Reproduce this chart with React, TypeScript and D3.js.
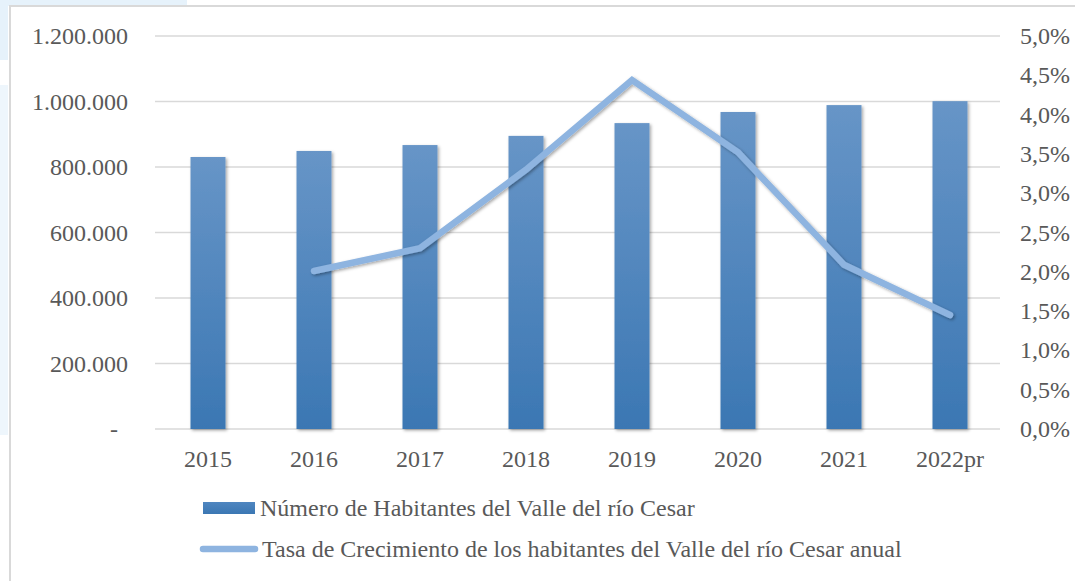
import { useEffect, useRef } from 'react'
import * as d3 from 'd3'

const years = ['2015', '2016', '2017', '2018', '2019', '2020', '2021', '2022pr']
const habitantes = [830500, 849000, 867000, 895000, 934000, 968000, 989000, 1001000]
const crecimiento = [null, 2.01, 2.3, 3.3, 4.44, 3.52, 2.09, 1.45]
const leftTicks = [0, 200000, 400000, 600000, 800000, 1000000, 1200000]
const rightTicks = [0, 0.5, 1, 1.5, 2, 2.5, 3, 3.5, 4, 4.5, 5]

const barLabel = 'Número de Habitantes del Valle del río Cesar'
const lineLabel = 'Tasa de Crecimiento de los habitantes del Valle del río Cesar anual'

export default function App() {
  const svgRef = useRef<SVGSVGElement>(null)

  useEffect(() => {
    if (!svgRef.current) return
    const width = 1075
    const height = 581
    const margin = { top: 36, right: 72, bottom: 152, left: 155 }
    const font = "'Liberation Serif', 'Times New Roman', serif"
    const fontSize = '24px'
    const textColor = '#595959'

    const svg = d3.select(svgRef.current)
    svg.selectAll('*').remove()
    svg.attr('width', width).attr('height', height)

    // 그라디언트, 그림자
    const defs = svg.append('defs')
    const grad = defs.append('linearGradient').attr('id', 'barGrad').attr('x1', 0).attr('y1', 0).attr('x2', 0).attr('y2', 1)
    grad.append('stop').attr('offset', '0%').attr('stop-color', '#6795c7')
    grad.append('stop').attr('offset', '100%').attr('stop-color', '#3b77b3')
    const legGrad = defs.append('linearGradient').attr('id', 'legGrad').attr('x1', 0).attr('y1', 0).attr('x2', 0).attr('y2', 1)
    legGrad.append('stop').attr('offset', '0%').attr('stop-color', '#4f86c0')
    legGrad.append('stop').attr('offset', '100%').attr('stop-color', '#3b77b3')
    const shadow = defs.append('filter').attr('id', 'shadow').attr('x', '-20%').attr('y', '-20%').attr('width', '140%').attr('height', '140%')
    shadow.append('feDropShadow').attr('dx', 1.5).attr('dy', 1.5).attr('stdDeviation', 1.5).attr('flood-color', '#000').attr('flood-opacity', 0.35)

    // 배경
    svg.append('rect').attr('width', width).attr('height', height).attr('fill', '#fff')
    svg.append('rect').attr('x', 0).attr('y', 0).attr('width', 187).attr('height', 6).attr('fill', '#e6f2fb')
    svg.append('rect').attr('x', 0).attr('y', 0).attr('width', 8).attr('height', 60).attr('fill', '#e6f2fb')
    svg.append('rect').attr('x', 0).attr('y', 85).attr('width', 8).attr('height', 350).attr('fill', '#eef6fc')
    svg.append('rect').attr('x', 10).attr('y', 6).attr('width', width).attr('height', height)
      .attr('fill', '#fff').attr('stroke', '#d9d9d9').attr('stroke-width', 2)

    const x0 = margin.left
    const x1 = width - margin.right
    const y0 = height - margin.bottom
    const yTop = margin.top

    const x = d3.scaleBand().domain(years).range([x0, x1]).paddingInner(0.67).paddingOuter(0.335)
    const yL = d3.scaleLinear().domain([0, 1200000]).range([y0, yTop])
    const yR = d3.scaleLinear().domain([0, 5]).range([y0, yTop])

    const textStyle = (sel: any) => sel
      .attr('font-family', font).attr('font-size', fontSize).attr('fill', textColor)

    // 격자
    svg.append('g').selectAll('line').data(leftTicks).enter().append('line')
      .attr('x1', x0).attr('x2', x1 - 3)
      .attr('y1', d => yL(d)).attr('y2', d => yL(d))
      .attr('stroke', '#d9d9d9').attr('stroke-width', 1.5)

    const fmt = (v: number) => v === 0 ? '-' : d3.format(',')(v).replace(/,/g, '.')
    svg.append('g').selectAll('text').data(leftTicks).enter().append('text')
      .attr('x', d => d === 0 ? 118 : 128)
      .attr('y', d => yL(d) + 8)
      .attr('text-anchor', 'end')
      .call(textStyle)
      .text(d => fmt(d))

    svg.append('g').selectAll('text').data(rightTicks).enter().append('text')
      .attr('x', 1020)
      .attr('y', d => yR(d) + 8)
      .attr('text-anchor', 'start')
      .call(textStyle)
      .text(d => d.toFixed(1).replace('.', ',') + '%')

    svg.append('g').selectAll('text').data(years).enter().append('text')
      .attr('x', d => (x(d) || 0) + x.bandwidth() / 2)
      .attr('y', y0 + 38)
      .attr('text-anchor', 'middle')
      .call(textStyle)
      .text(d => d)

    // 막대
    svg.append('g').selectAll('rect').data(habitantes).enter().append('rect')
      .attr('x', (_, i) => x(years[i]) || 0)
      .attr('y', d => yL(d))
      .attr('width', x.bandwidth())
      .attr('height', d => y0 - yL(d))
      .attr('fill', 'url(#barGrad)')
      .attr('filter', 'url(#shadow)')

    // 선
    const pts = crecimiento
      .map((v, i) => ({ v, year: years[i] }))
      .filter(d => d.v !== null) as { v: number; year: string }[]
    const line = d3.line<{ v: number; year: string }>()
      .x(d => (x(d.year) || 0) + x.bandwidth() / 2)
      .y(d => yR(d.v))
    svg.append('path').datum(pts)
      .attr('d', line)
      .attr('fill', 'none')
      .attr('stroke', '#8eb4e0')
      .attr('stroke-width', 6.5)
      .attr('stroke-linecap', 'round')
      .attr('stroke-linejoin', 'miter')
      .attr('filter', 'url(#shadow)')

    // 범례
    svg.append('rect').attr('x', 203).attr('y', 502).attr('width', 52).attr('height', 12)
      .attr('fill', 'url(#legGrad)')
    svg.append('text').attr('x', 260).attr('y', 516)
      .call(textStyle)
      .text(barLabel)
    svg.append('line').attr('x1', 203).attr('x2', 255).attr('y1', 549).attr('y2', 549)
      .attr('stroke', '#8eb4e0').attr('stroke-width', 6.5).attr('stroke-linecap', 'round')
    svg.append('text').attr('x', 262).attr('y', 557)
      .call(textStyle)
      .text(lineLabel)
  }, [])

  return (
    <div style={{ position: 'absolute', left: 0, top: 0 }}>
      <svg ref={svgRef} style={{ display: 'block' }}></svg>
    </div>
  )
}
